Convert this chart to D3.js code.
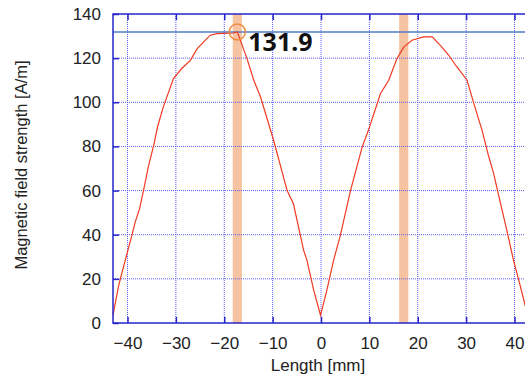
<html><head>
<script src="https://d3js.org/d3.v7.min.js"></script>
<style>
  body { margin: 0; background: white; }
  .tick text { font-family: 'Liberation Sans', Arial, sans-serif; font-size: 17px; fill: #222; }
  .label { font-family: 'Liberation Sans', Arial, sans-serif; fill: #222; }
</style>
</head>
<body>
<svg id="chart" width="525" height="378"></svg>
<script>
// curve readings (mm, A/m)
const lengthMm = [-43, -41.9, -41.2, -39.1, -38.4, -37.5, -36.7, -35.7, -34.5, -33.8, -32.6, -30.5, -28.8, -27.0, -25.6, -24.6, -22.9, -21.5, -18.1, -17.3,
  -15.3, -13.9, -12.5, -9.8, -7.0, -5.7, -3.6, -2.9, -1.5, -0.1, 1.2, 2.6, 4.0, 6.1, 8.5, 9.8, 12.3, 14.0, 15.7, 17.1, 18.8, 21.2, 23.0,
  25.0, 26.4, 28.1, 30.2, 31.6, 33.3, 34.7, 35.7, 36.5, 38.5, 39.8, 40.9, 42.3, 43];
const fieldAm = [3.5, 16.3, 22.4, 39.7, 45.8, 51.8, 60, 70.7, 81.3, 88.8, 97.9, 110.7, 115.3, 119, 124.3, 126.6, 130.4, 131.1, 131.4, 131.9,
  119.8, 110, 102.4, 82.8, 60, 54, 33, 28.4, 14.8, 3.5, 14.8, 28.4, 39.7, 60, 79.7, 87.3, 104, 110, 119.8, 125, 128.1, 129.6, 129.6,
  125, 121.3, 116, 110, 99.4, 87.3, 75.2, 67.7, 60, 41.2, 28.4, 19.3, 7.2, 3];
const bandCenters = [-17.3, 17.1];
const peakX = -17.3, peakVal = 131.9;
const xTicks = [-40, -30, -20, -10, 0, 10, 20, 30, 40];
const yTicks = [0, 20, 40, 60, 80, 100, 120, 140];

const svg = d3.select("#chart");
const pl = 113, pr = 529, pt = 14, pb = 323;
const x = d3.scaleLinear().domain([-43, 43]).range([pl, pr]);
const y = d3.scaleLinear().domain([0, 140]).range([pb, pt]);
const axisColor = "#2626c8";

// bands
svg.selectAll("rect.band").data(bandCenters).join("rect")
  .attr("class", "band")
  .attr("x", d => x(d - 0.95)).attr("width", x(1.9) - x(0))
  .attr("y", pt).attr("height", pb - pt)
  .attr("fill", "#f6c3a2");

// grid
svg.append("g").selectAll("line").data(xTicks).join("line")
  .attr("x1", d => x(d)).attr("x2", d => x(d)).attr("y1", pt).attr("y2", pb)
  .attr("stroke", "#5a5af0").attr("stroke-width", 1).attr("stroke-dasharray", "1,1");
svg.append("g").selectAll("line").data(yTicks.slice(1, -1)).join("line")
  .attr("x1", pl).attr("x2", pr).attr("y1", d => y(d)).attr("y2", d => y(d))
  .attr("stroke", "#5a5af0").attr("stroke-width", 1).attr("stroke-dasharray", "1,1");

// peak line
svg.append("line")
  .attr("x1", pl).attr("x2", pr).attr("y1", y(peakVal)).attr("y2", y(peakVal))
  .attr("stroke", "#4f7cc4").attr("stroke-width", 1.5);

// curve
const line = d3.line().x((d, i) => x(lengthMm[i])).y(d => y(d));
svg.append("path").datum(fieldAm)
  .attr("d", line).attr("fill", "none")
  .attr("stroke", "#f03a22").attr("stroke-width", 1.2);

// frame
svg.append("rect").attr("x", pl).attr("y", pt).attr("width", pr - pl).attr("height", pb - pt)
  .attr("fill", "none").attr("stroke", axisColor).attr("stroke-width", 1.5);

// axes
const bottomAxis = d3.axisBottom(x).tickValues(xTicks).tickSize(-6).tickPadding(14).tickFormat(d => d < 0 ? "\u2212" + Math.abs(d) : d);
svg.append("g").attr("transform", `translate(0,${pb})`).call(bottomAxis);
const leftAxis = d3.axisLeft(y).tickValues(yTicks).tickSize(-6).tickPadding(12);
svg.append("g").attr("transform", `translate(${pl},0)`).call(leftAxis);
svg.append("g").attr("transform", `translate(0,${pt})`).call(d3.axisTop(x).tickValues(xTicks).tickSize(-6).tickFormat(""));
svg.selectAll(".tick line").attr("stroke", axisColor).attr("stroke-width", 1.5);
svg.selectAll(".domain").remove();

// peak marker
svg.append("circle").attr("cx", x(peakX)).attr("cy", y(peakVal)).attr("r", 8)
  .attr("fill", "none").attr("stroke", "#f08a3a").attr("stroke-width", 1.5);
svg.append("text").attr("x", x(peakX) + 11).attr("y", y(peakVal) + 19)
  .style("font-family", "'Noto Sans', sans-serif").style("font-weight", "bold").style("font-size", "25px")
  .attr("fill", "#111").text(peakVal.toFixed(1));

// axis titles
svg.append("text").attr("class", "label").attr("text-anchor", "middle")
  .attr("x", 318).attr("y", 371).style("font-size", "17px").text("Length [mm]");
svg.append("text").attr("class", "label").attr("text-anchor", "middle")
  .attr("transform", "translate(27,165) rotate(-90)").style("font-size", "16.5px").text("Magnetic field strength [A/m]");
</script>
</body>
</html>
